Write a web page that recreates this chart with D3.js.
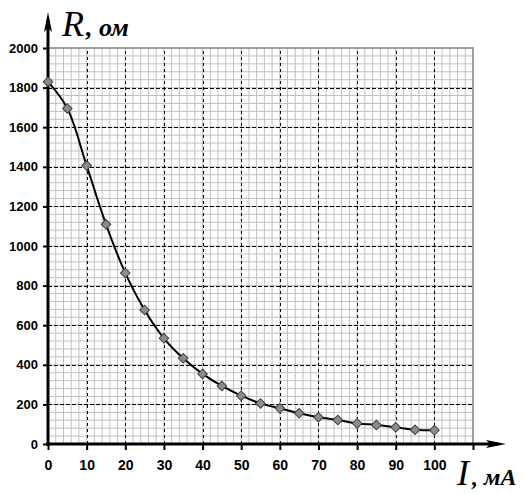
<!DOCTYPE html>
<html>
<head>
<meta charset="utf-8">
<script src="https://cdn.jsdelivr.net/npm/d3@7"></script>
<style>
body { margin: 0; background: #fff; }
svg { display: block; }
</style>
</head>
<body>
<svg></svg>
<script>
// current I (mA) and resistance R (Ohm)
var currents = [0, 5, 10, 15, 20, 25, 30, 35, 40, 45, 50, 55, 60, 65, 70, 75, 80, 85, 90, 95, 100]
var resist = [1830, 1695, 1406, 1110, 864, 677, 534, 433, 354, 293, 244, 205, 180, 155, 135, 121, 104, 96, 84, 72, 69]
var xTicks = [0, 10, 20, 30, 40, 50, 60, 70, 80, 90, 100]
var yTicks = [0, 200, 400, 600, 800, 1000, 1200, 1400, 1600, 1800, 2000]

var screen = {width: 525, height: 494}

var points = currents.map(function(c, i) {
    return {x: c, y: resist[i]}
})

var svg = d3.select("svg")
    .attr("width", screen.width)
    .attr("height", screen.height)

var xScale = d3.scaleLinear().domain([0, 110]).range([48, 473])
var yScale = d3.scaleLinear().domain([0, 2000]).range([444, 48])

// minor grid
var grid = svg.append("g")
grid.selectAll(".vminor")
    .data(d3.range(2, 110, 2))
    .enter()
    .append("line")
    .attr("x1", function(d) { return xScale(d) })
    .attr("x2", function(d) { return xScale(d) })
    .attr("y1", yScale(0))
    .attr("y2", yScale(2000))
    .attr("stroke", "#c0c0c0")
grid.selectAll(".hminor")
    .data(d3.range(40, 2000, 40))
    .enter()
    .append("line")
    .attr("x1", xScale(0))
    .attr("x2", xScale(110))
    .attr("y1", function(d) { return yScale(d) })
    .attr("y2", function(d) { return yScale(d) })
    .attr("stroke", "#c0c0c0")

// major dashed grid
grid.selectAll(".vmajor")
    .data(xTicks.slice(1))
    .enter()
    .append("line")
    .attr("x1", function(d) { return Math.round(xScale(d)) + 0.5 })
    .attr("x2", function(d) { return Math.round(xScale(d)) + 0.5 })
    .attr("y1", yScale(0))
    .attr("y2", yScale(2000))
    .attr("stroke", "#000")
    .attr("stroke-dasharray", "3,3")
grid.selectAll(".hmajor")
    .data(yTicks.slice(1, -1))
    .enter()
    .append("line")
    .attr("x1", xScale(0))
    .attr("x2", xScale(110))
    .attr("y1", function(d) { return Math.round(yScale(d)) + 0.5 })
    .attr("y2", function(d) { return Math.round(yScale(d)) + 0.5 })
    .attr("stroke", "#000")
    .attr("stroke-dasharray", "4,2")

// plot border (top / right)
svg.append("path")
    .attr("d", "M" + xScale(0) + "," + yScale(2000) + "H" + xScale(110) + "V" + yScale(0))
    .attr("fill", "none")
    .attr("stroke", "#808080")
    .attr("stroke-width", 1.5)

// axes
var xAxis = d3.axisBottom(xScale).tickValues(xTicks.concat([110])).tickSize(6).tickFormat(function(d) { return d > 100 ? "" : d })
var yAxis = d3.axisLeft(yScale).tickValues(yTicks).tickSize(5).tickFormat(d3.format("d"))

var gx = svg.append("g").attr("transform", "translate(0," + yScale(0) + ")").call(xAxis)
var gy = svg.append("g").attr("transform", "translate(" + xScale(0) + ",0)").call(yAxis)

gx.select(".domain").remove()
gy.select(".domain").remove()
gx.selectAll(".tick line").attr("stroke-width", 2)
gy.selectAll(".tick line").attr("stroke-width", 2)
gx.selectAll("text")
    .attr("y", 16)
    .style("font-family", "Arial, 'Liberation Sans', sans-serif")
    .style("font-weight", "bold")
    .style("font-size", "14px")
    .attr("fill", "#000")
gy.selectAll("text")
    .attr("x", -10)
    .style("font-family", "Arial, 'Liberation Sans', sans-serif")
    .style("font-weight", "bold")
    .style("font-size", "13px")
    .attr("fill", "#000")

// axis lines with arrows
svg.append("line")
    .attr("x1", xScale(0) - 2).attr("x2", 498)
    .attr("y1", yScale(0)).attr("y2", yScale(0))
    .attr("stroke", "#000").attr("stroke-width", 3)
svg.append("path")
    .attr("d", "M506," + yScale(0) + "L486," + (yScale(0) - 4) + "L490," + yScale(0) + "L486," + (yScale(0) + 4) + "Z")
    .attr("fill", "#000")
svg.append("line")
    .attr("x1", xScale(0)).attr("x2", xScale(0))
    .attr("y1", yScale(0) + 2).attr("y2", 20)
    .attr("stroke", "#000").attr("stroke-width", 3)
svg.append("path")
    .attr("d", "M" + xScale(0) + ",12L" + (xScale(0) - 4) + ",32L" + xScale(0) + ",28L" + (xScale(0) + 4) + ",32Z")
    .attr("fill", "#000")

// curve
var line = d3.line()
    .x(function(p) { return xScale(p.x) })
    .y(function(p) { return yScale(p.y) })
    .curve(d3.curveCatmullRom.alpha(0.5))

svg.append("path")
    .datum(points)
    .attr("d", line)
    .attr("fill", "none")
    .attr("stroke", "#000")
    .attr("stroke-width", 2)

// diamond markers
svg.selectAll(".marker")
    .data(points)
    .enter()
    .append("path")
    .attr("d", d3.symbol(d3.symbolSquare, 46))
    .attr("transform", function(p) {
        return "translate(" + xScale(p.x) + "," + yScale(p.y) + ") rotate(45)"
    })
    .attr("fill", "#8c8c8c")
    .attr("stroke", "#404040")
    .attr("stroke-width", 1)

// axis titles
var yTitle = svg.append("text")
    .attr("x", 62)
    .attr("y", 36)
    .style("font-family", "'Liberation Serif', 'Times New Roman', serif")
    .style("font-style", "italic")
yTitle.append("tspan").style("font-size", "36px").text("R")
yTitle.append("tspan").attr("dx", 2).style("font-size", "26px").style("font-weight", "bold").text(", ом")

var xTitle = svg.append("text")
    .attr("x", 457)
    .attr("y", 485)
    .style("font-family", "'Liberation Serif', 'Times New Roman', serif")
    .style("font-style", "italic")
xTitle.append("tspan").style("font-size", "36px").text("I")
xTitle.append("tspan").attr("dx", 3).style("font-size", "24px").style("font-weight", "bold").text(", мА")
</script>
</body>
</html>
